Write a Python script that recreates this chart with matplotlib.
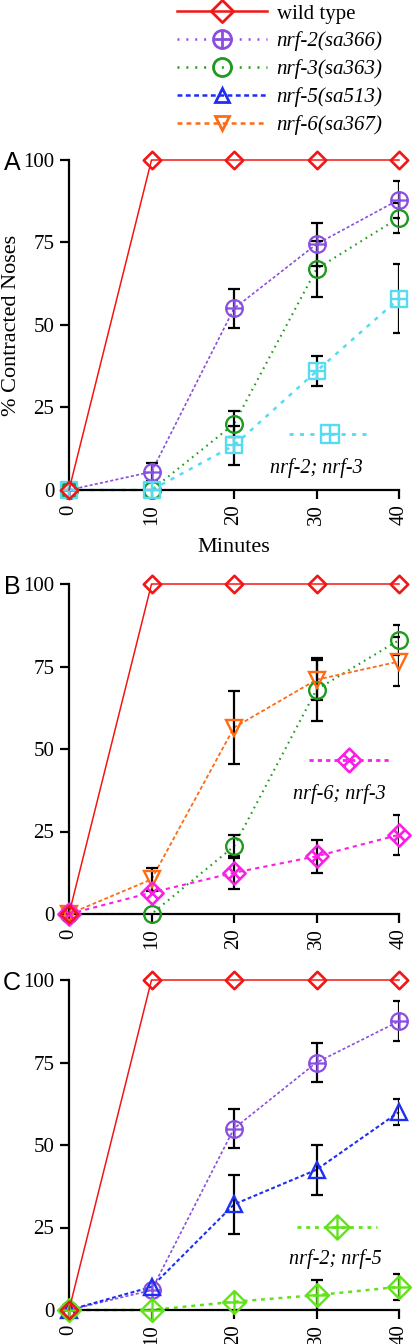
import numpy as np
import matplotlib.pyplot as plt
from matplotlib.path import Path
from matplotlib.lines import Line2D

plt.rcParams['font.family'] = ['Liberation Serif', 'DejaVu Serif']
plt.rcParams['lines.scale_dashes'] = False

# ---- data (percent contracted noses vs minutes) ----
minutes = [0, 10, 20, 30, 40]
tick_labels = ['0', '10', '20', '30', '40']
y_ticks = [0, 25, 50, 75, 100]

wild_type = [0, 100, 100, 100, 100]

# panel A
a_nrf2 = [0, 5.5, 55, 74.5, 88]
a_nrf2_err = [0, 2.7, 6, 6.5, 5.5]
a_nrf3 = [0, 0, 20, 67, 82.5]
a_nrf3_err = [0, 0, 4, 8.5, 4.5]
a_nrf2_nrf3 = [0, 0, 13.5, 36, 58]
a_nrf2_nrf3_err = [0, 0, 5.8, 4.5, 10.5]

# panel B
b_nrf3 = [0, 0, 20.5, 68, 83]
b_nrf3_err = [0, 0, 3.5, 9.5, 4.5]
b_nrf6 = [0, 10.5, 56.5, 71, 76.5]
b_nrf6_err = [0, 3.5, 11, 6, 7.5]
b_nrf6_nrf3 = [0, 6.5, 12.5, 17.5, 24]
b_nrf6_nrf3_err = [0, 0, 5, 5, 6]

# panel C
c_nrf2 = [0, 6, 55, 75, 87.5]
c_nrf2_err = [0, 0, 6, 6, 6]
c_nrf5 = [0, 7, 32, 42.5, 60]
c_nrf5_err = [0, 0, 9, 7.5, 4]
c_nrf2_nrf5 = [0, 0, 2.5, 4.5, 7]
c_nrf2_nrf5_err = [0, 0, 0, 4.5, 4]


# ---- custom markers ----
def seg(a, b):
    return Path([a, b], [Path.MOVETO, Path.LINETO])

square = Path([(-1, -1), (1, -1), (1, 1), (-1, 1), (-1, -1)], closed=True)
diamond = Path([(0, 1), (1, 0), (0, -1), (-1, 0), (0, 1)], closed=True)
circle_plus = Path.make_compound_path(Path.unit_circle(), seg((-1, 0), (1, 0)), seg((0, -1), (0, 1)))
square_plus = Path.make_compound_path(square, seg((-1, 0), (1, 0)), seg((0, -1), (0, 1)))
diamond_grid = Path.make_compound_path(diamond, seg((-.5, .5), (.5, -.5)), seg((.5, .5), (-.5, -.5)))
diamond_plus = Path.make_compound_path(diamond, seg((-1, 0), (1, 0)), seg((0, -1), (0, 1)))

RED = '#f21616'
PURPLE = '#8a4ee0'
GREEN = '#1e9a1e'
BLUE = '#1f2ff0'
ORANGE = '#ff6a12'
CYAN = '#55dcf2'
MAGENTA = '#fb1fe6'
LIME = '#62e21c'

styles = {
    'wt': dict(color=RED, ls='-', lw=1.1, marker=diamond, ms=12.5, mew=1.9),
    'nrf2': dict(color=PURPLE, ls=(0, (2.2, 1.6)), lw=1.2, marker=circle_plus, ms=12, mew=1.6),
    'nrf3': dict(color=GREEN, ls=(0, (1.2, 3.2)), lw=1.5, marker='o', ms=12, mew=1.7),
    'nrf5': dict(color=BLUE, ls=(0, (2.8, 1.8)), lw=1.5, marker='^', ms=11.5, mew=1.7),
    'nrf6': dict(color=ORANGE, ls=(0, (2.8, 1.8)), lw=1.3, marker='v', ms=11.5, mew=1.7),
    'nrf2_nrf3': dict(color=CYAN, ls=(0, (3, 4.5)), lw=1.8, marker=square_plus, ms=11.5, mew=1.7),
    'nrf6_nrf3': dict(color=MAGENTA, ls=(0, (3, 3)), lw=1.5, marker=diamond_grid, ms=16, mew=1.9),
    'nrf2_nrf5': dict(color=LIME, ls=(0, (2.8, 3.5)), lw=1.8, marker=diamond_plus, ms=16.5, mew=1.7),
}

panels = [
    ('A', [('nrf2', a_nrf2, a_nrf2_err), ('nrf3', a_nrf3, a_nrf3_err),
           ('nrf2_nrf3', a_nrf2_nrf3, a_nrf2_nrf3_err)],
     'nrf2_nrf3', 'nrf-2; nrf-3', (0.79, 0.167), (0.75, 0.067)),
    ('B', [('nrf3', b_nrf3, b_nrf3_err), ('nrf6', b_nrf6, b_nrf6_err),
           ('nrf6_nrf3', b_nrf6_nrf3, b_nrf6_nrf3_err)],
     'nrf6_nrf3', 'nrf-6; nrf-3', (0.848, 0.462), (0.818, 0.365)),
    ('C', [('nrf2', c_nrf2, c_nrf2_err), ('nrf5', c_nrf5, c_nrf5_err),
           ('nrf2_nrf5', c_nrf2_nrf5, c_nrf2_nrf5_err)],
     'nrf2_nrf5', 'nrf-2; nrf-5', (0.812, 0.246), (0.806, 0.155)),
]

fig = plt.figure(figsize=(4.15, 13.44), dpi=100)
left, width = 69 / 415, 330 / 415
tops = [160, 584, 980]
H = 1344

for (letter, series, ins_key, ins_label, ins_pos, txt_pos), top in zip(panels, tops):
    ax = fig.add_axes([left, 1 - (top + 330) / H, width, 330 / H])
    for key, vals, err in series:
        st = styles[key]
        ax.plot(minutes, vals, color=st['color'], ls=st['ls'], lw=st['lw'], zorder=2, clip_on=False)
        idx = [i for i, e in enumerate(err) if e > 0]
        if idx:
            ax.errorbar([minutes[i] for i in idx], [vals[i] for i in idx],
                        yerr=[err[i] for i in idx], fmt='none', ecolor='black',
                        elinewidth=1.6, capsize=4.5, capthick=1.6, zorder=3)
        ax.plot(minutes, vals, ls='none', marker=st['marker'], ms=st['ms'], mew=st['mew'],
                mec=st['color'], mfc='none', zorder=4, clip_on=False)
    st = styles['wt']
    ax.plot(minutes, wild_type, color=st['color'], ls='-', lw=st['lw'], marker=st['marker'],
            ms=st['ms'], mew=st['mew'], mfc='none', zorder=5, clip_on=False)

    # inset key for the double mutant
    st = styles[ins_key]
    h = Line2D([], [], color=st['color'], ls=st['ls'], lw=2.0, marker=st['marker'],
               ms=st['ms'] + 1, mew=st['mew'], mfc='none')
    ax.legend(handles=[h], labels=[''], loc='center', bbox_to_anchor=ins_pos,
              frameon=False, handlelength=5.8, handletextpad=0, borderpad=0,
              numpoints=1, fontsize=10)
    ax.text(txt_pos[0], txt_pos[1], ins_label, transform=ax.transAxes, ha='center',
            va='center', fontsize=14.5, style='italic')

    ax.set_xlim(0, 40)
    ax.set_ylim(0, 100)
    ax.set_xticks(minutes)
    ax.set_xticklabels(tick_labels, rotation=90)
    ax.set_yticks(y_ticks)
    for s in ['top', 'right']:
        ax.spines[s].set_visible(False)
    for s in ['left', 'bottom']:
        ax.spines[s].set_linewidth(1.6)
    ax.tick_params(direction='out', length=6.5, width=1.6, labelsize=15, pad=4)
    if letter == 'A':
        ax.set_xlabel('Minutes', fontsize=16, labelpad=9)
        ax.set_ylabel('% Contracted Noses', fontsize=16)
        ax.yaxis.set_label_coords(-0.146, 0.5)
    fig.text(12 / 415, 1 - (top + 3) / H, letter, ha='center', va='center',
             fontsize=18, family='Liberation Sans')

# ---- main key at the top ----
key_names = ['wt', 'nrf2', 'nrf3', 'nrf5', 'nrf6']
key_labels = ['wild type', 'nrf-2(sa366)', 'nrf-3(sa363)', 'nrf-5(sa513)', 'nrf-6(sa367)']
key_ms = [16, 13, 13, 10, 10]
key_ls = ['-', (0, (1.4, 5)), (0, (1.4, 5)), (0, (3.5, 2.5)), (0, (3.5, 3))]
handles = []
for k, ms, ls in zip(key_names, key_ms, key_ls):
    st = styles[k]
    handles.append(Line2D([], [], color=st['color'], ls=ls, lw=1.8, marker=st['marker'],
                          ms=ms, mew=2.0, mfc='none'))
leg = fig.legend(handles=handles, labels=key_labels, loc='upper left',
                 bbox_to_anchor=(177 / 415, 1 - 4 / H), frameon=False,
                 handlelength=4.3, handletextpad=0.48, borderpad=0, borderaxespad=0,
                 labelspacing=0.38, numpoints=1, fontsize=15)
for t in leg.get_texts()[1:]:
    t.set_style('italic')

fig.savefig('out.png', dpi=100)
